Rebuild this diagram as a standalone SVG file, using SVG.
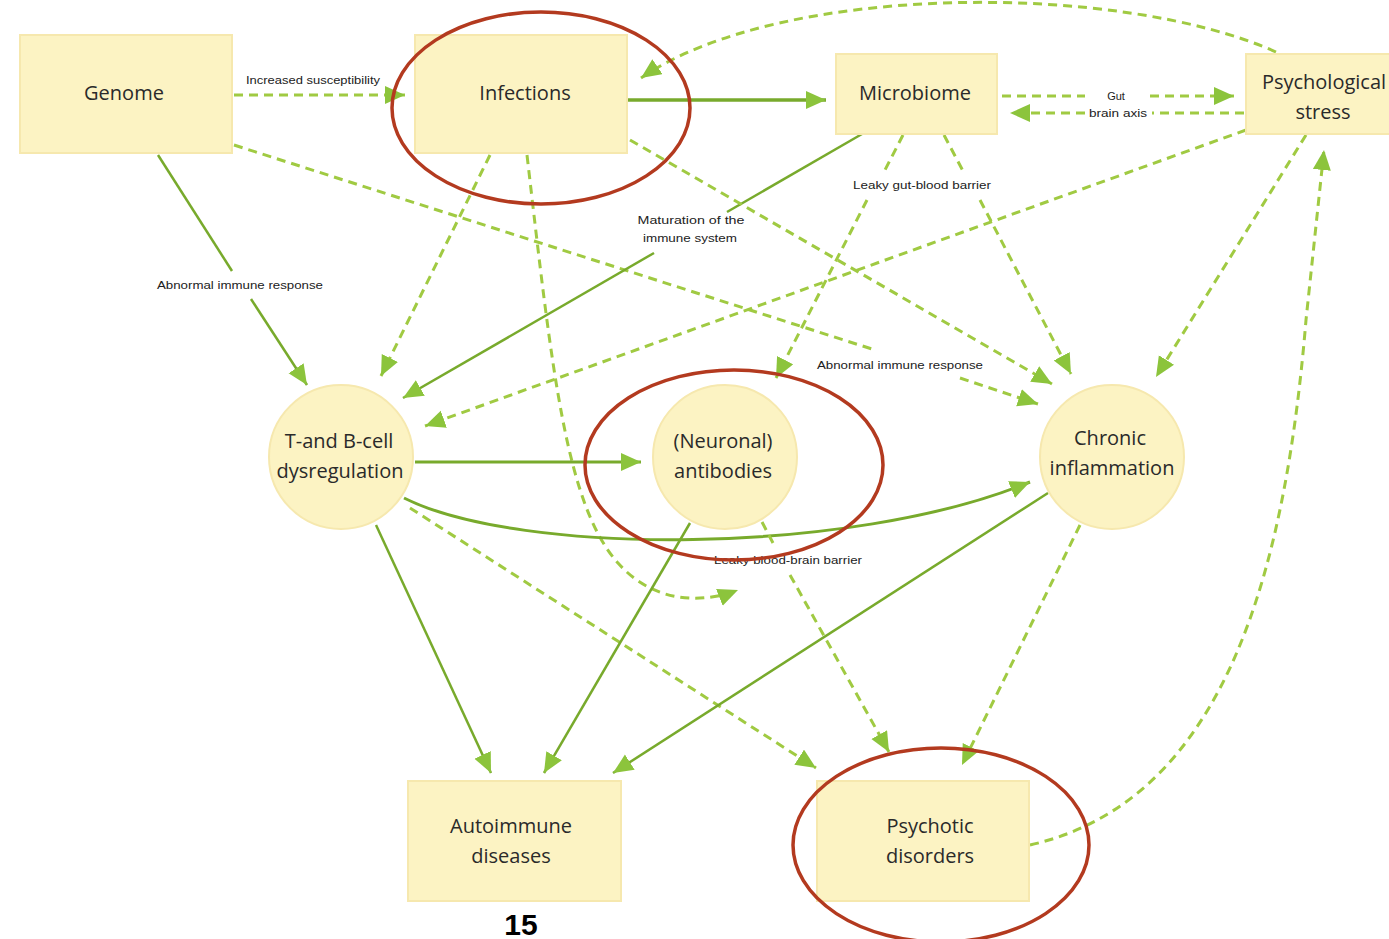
<svg xmlns="http://www.w3.org/2000/svg" width="1389" height="939" viewBox="0 0 1389 939">
<style>
.box{fill:#fcf3c3;stroke:#f6e8ae;stroke-width:2}
.circ{fill:#fcf3c3;stroke:#f6e8ae;stroke-width:2}
.nt{font-family:"Open Sans","Liberation Sans",sans-serif;font-size:20px;fill:#2a2a2a;text-anchor:middle}
.lb{font-family:"Liberation Sans",Arial,sans-serif;font-size:11px;fill:#222;text-anchor:middle}
.s{fill:none;stroke:#78aa2c;stroke-width:2.5}
.d{fill:none;stroke:#a0ca42;stroke-width:3;stroke-dasharray:9 6}
.red{fill:none;stroke:#b33a1f;stroke-width:3.5}
</style>
<defs>
<marker id="a" markerUnits="userSpaceOnUse" markerWidth="22" markerHeight="20" refX="20" refY="9" orient="auto">
<path d="M0,0 L20,9 L0,18 z" fill="#8cc43c"/>
</marker>
</defs>
<rect width="1389" height="939" fill="#ffffff"/>
<g id="connectors">
<line class="d" x1="234" y1="95" x2="405" y2="95" marker-end="url(#a)"/>
<line class="s" x1="628" y1="100" x2="826" y2="100" style="stroke-width:3.5" marker-end="url(#a)"/>
<line class="d" x1="1002" y1="96" x2="1085" y2="96"/>
<line class="d" x1="1150" y1="96" x2="1234" y2="96" marker-end="url(#a)"/>
<line class="d" x1="1244" y1="113" x2="1152" y2="113"/>
<line class="d" x1="1085" y1="113" x2="1010" y2="113" marker-end="url(#a)"/>
<path class="d" d="M1276 52 C1120 -18 780 -18 641 78" marker-end="url(#a)"/>
<line class="s" x1="158" y1="155" x2="232" y2="271"/>
<line class="s" x1="251" y1="299" x2="307" y2="385" marker-end="url(#a)"/>
<line class="d" x1="234" y1="145" x2="875" y2="350"/>
<line class="d" x1="960" y1="378" x2="1038" y2="404" marker-end="url(#a)"/>
<line class="d" x1="490" y1="155" x2="381" y2="376" marker-end="url(#a)"/>
<path class="d" d="M527 155 C552 370 566 505 618 563 C655 605 705 603 738 590" marker-end="url(#a)"/>
<line class="s" x1="862" y1="134" x2="727" y2="212"/>
<line class="s" x1="654" y1="253" x2="403" y2="398" marker-end="url(#a)"/>
<line class="d" x1="903" y1="135" x2="885" y2="170"/>
<line class="d" x1="867" y1="200" x2="776" y2="378" marker-end="url(#a)"/>
<line class="d" x1="944" y1="135" x2="963" y2="171"/>
<line class="d" x1="980" y1="200" x2="1071" y2="374" marker-end="url(#a)"/>
<line class="d" x1="630" y1="140" x2="1052" y2="384" marker-end="url(#a)"/>
<line class="d" x1="1246" y1="130" x2="425" y2="426" marker-end="url(#a)"/>
<line class="d" x1="1306" y1="135" x2="1156" y2="377" marker-end="url(#a)"/>
<path class="d" d="M1030 845 C1230 800 1286 560 1306 320 L1324 150" marker-end="url(#a)"/>
<line class="s" x1="415" y1="462" x2="641" y2="462" style="stroke-width:3" marker-end="url(#a)"/>
<path class="s" d="M404 498 C520 556 850 556 1030 482" style="stroke-width:3" marker-end="url(#a)"/>
<line class="s" x1="376" y1="525" x2="491" y2="773" marker-end="url(#a)"/>
<line class="d" x1="410" y1="508" x2="816" y2="768" marker-end="url(#a)"/>
<line class="s" x1="690" y1="523" x2="544" y2="773" marker-end="url(#a)"/>
<line class="s" x1="1048" y1="493" x2="613" y2="773" marker-end="url(#a)"/>
<line class="d" x1="762" y1="522" x2="773" y2="543"/>
<line class="d" x1="790" y1="575" x2="889" y2="752" marker-end="url(#a)"/>
<line class="d" x1="1080" y1="525" x2="962" y2="765" marker-end="url(#a)"/>
</g>
<g id="labels">
<text class="lb" x="313" y="84" textLength="134" lengthAdjust="spacingAndGlyphs">Increased susceptibility</text>
<text class="lb" x="240" y="289" textLength="166" lengthAdjust="spacingAndGlyphs">Abnormal immune response</text>
<text class="lb" x="900" y="369" textLength="166" lengthAdjust="spacingAndGlyphs">Abnormal immune response</text>
<text class="lb" x="691" y="224" textLength="107" lengthAdjust="spacingAndGlyphs">Maturation of the</text>
<text class="lb" x="690" y="242" textLength="94" lengthAdjust="spacingAndGlyphs">immune system</text>
<text class="lb" x="922" y="189" textLength="138" lengthAdjust="spacingAndGlyphs">Leaky gut-blood barrier</text>
<text class="lb" x="1116" y="100">Gut</text>
<text class="lb" x="1118" y="117" textLength="58" lengthAdjust="spacingAndGlyphs">brain axis</text>
<text class="lb" x="788" y="564" textLength="148" lengthAdjust="spacingAndGlyphs">Leaky blood-brain barrier</text>
</g>
<g id="genome"><rect class="box" x="20" y="35" width="212" height="118"/><text class="nt" x="124" y="100">Genome</text></g>
<g id="infections"><rect class="box" x="415" y="35" width="212" height="118"/><text class="nt" x="525" y="100">Infections</text></g>
<g id="microbiome"><rect class="box" x="836" y="54" width="161" height="80"/><text class="nt" x="915" y="100">Microbiome</text></g>
<g id="psych-stress"><rect class="box" x="1246" y="54" width="160" height="80"/><text class="nt" x="1324" y="89">Psychological</text><text class="nt" x="1323" y="119">stress</text></g>
<g id="tb-cell"><ellipse class="circ" cx="341" cy="457" rx="72" ry="72"/><text class="nt" x="339" y="448">T-and B-cell</text><text class="nt" x="340" y="478">dysregulation</text></g>
<g id="neuronal"><ellipse class="circ" cx="725" cy="457" rx="72" ry="72"/><text class="nt" x="723" y="448">(Neuronal)</text><text class="nt" x="723" y="478">antibodies</text></g>
<g id="chronic"><ellipse class="circ" cx="1112" cy="457" rx="72" ry="72"/><text class="nt" x="1110" y="445">Chronic</text><text class="nt" x="1112" y="475">inflammation</text></g>
<g id="autoimmune"><rect class="box" x="408" y="781" width="213" height="120"/><text class="nt" x="511" y="833">Autoimmune</text><text class="nt" x="511" y="863">diseases</text></g>
<g id="psychotic"><rect class="box" x="817" y="781" width="212" height="120"/><text class="nt" x="930" y="833">Psychotic</text><text class="nt" x="930" y="863">disorders</text></g>
<g id="annotations">
<ellipse class="red" cx="541" cy="108" rx="149" ry="96"/>
<ellipse class="red" cx="734" cy="465" rx="149" ry="95"/>
<ellipse class="red" cx="941" cy="845" rx="148" ry="97"/>
<text x="521" y="935" font-family="Liberation Sans,Arial,sans-serif" font-size="30" font-weight="bold" fill="#000" text-anchor="middle">15</text>
</g>
</svg>
